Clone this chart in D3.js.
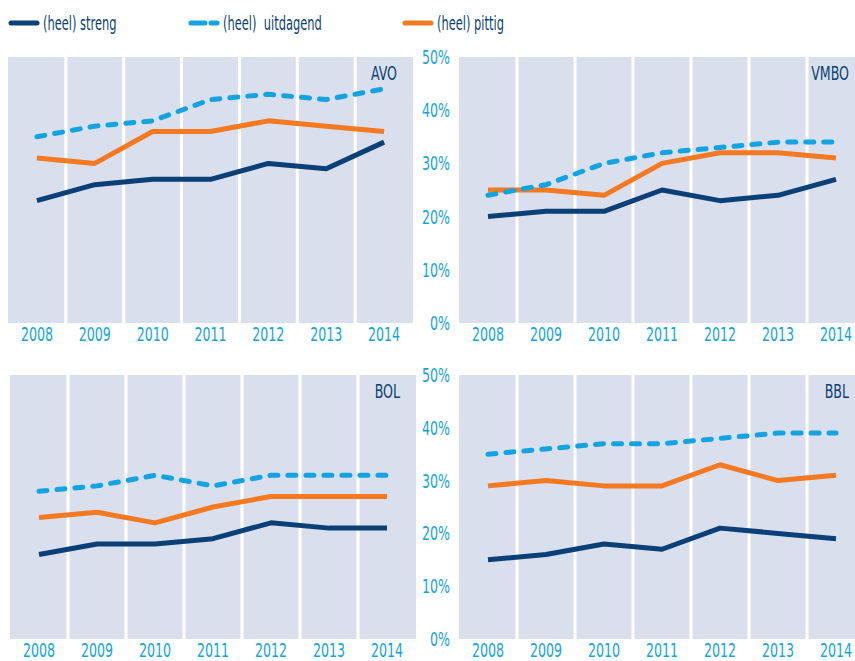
<!DOCTYPE html>
<html>
<head>
<meta charset="utf-8">
<script src="https://cdn.jsdelivr.net/npm/d3@7"></script>
<style>
  body { margin: 0; background: #fff; }
  svg text { font-family: "Liberation Sans Narrow", "Arial Narrow", "DejaVu Sans Condensed", sans-serif; }
</style>
</head>
<body>
<div id="chart"></div>
<script>
const years = ["2008", "2009", "2010", "2011", "2012", "2013", "2014"];
const seriesNames = ["(heel) streng", "(heel)\u00a0 uitdagend", "(heel) pittig"];
const yTicks = [0, 10, 20, 30, 40, 50];

const avoStreng    = [23, 26, 27, 27, 30, 29, 34];
const avoUitdagend = [35, 37, 38, 42, 43, 42, 44];
const avoPittig    = [31, 30, 36, 36, 38, 37, 36];

const vmboStreng    = [20, 21, 21, 25, 23, 24, 27];
const vmboUitdagend = [24, 26, 30, 32, 33, 34, 34];
const vmboPittig    = [25, 25, 24, 30, 32, 32, 31];

const bolStreng    = [16, 18, 18, 19, 22, 21, 21];
const bolUitdagend = [28, 29, 31, 29, 31, 31, 31];
const bolPittig    = [23, 24, 22, 25, 27, 27, 27];

const bblStreng    = [15, 16, 18, 17, 21, 20, 19];
const bblUitdagend = [35, 36, 37, 37, 38, 39, 39];
const bblPittig    = [29, 30, 29, 29, 33, 30, 31];

const navy = "#0b3f77";
const light = "#12a4e2";
const orange = "#f47920";
const panelBg = "#d9dfec";

const width = 855, height = 661;
const squeeze = 0.7;

const svg = d3.select("#chart")
    .append("svg")
    .attr("width", width)
    .attr("height", height);

// panel layout: x range, y range (bottom, top), whether it gets a y axis
const panels = [
    {name: "AVO",  x: [8, 413],   y: [323, 57],  axis: false, data: [avoStreng, avoUitdagend, avoPittig]},
    {name: "VMBO", x: [459, 865], y: [323, 57],  axis: true,  data: [vmboStreng, vmboUitdagend, vmboPittig]},
    {name: "BOL",  x: [10, 416],  y: [639, 375], axis: false, data: [bolStreng, bolUitdagend, bolPittig]},
    {name: "BBL",  x: [459, 865], y: [639, 375], axis: true,  data: [bblStreng, bblUitdagend, bblPittig]}
];

const colors = [navy, light, orange];
const dashes = [null, "8,10", null];
const drawOrder = [0, 2, 1];

panels.forEach(function (p) {
    const x = d3.scaleBand().domain(years).range(p.x).padding(0);
    const y = d3.scaleLinear().domain([0, 50]).range(p.y);
    const g = svg.append("g");

    g.append("rect")
        .attr("x", p.x[0])
        .attr("y", y(50))
        .attr("width", p.x[1] - p.x[0])
        .attr("height", y(0) - y(50))
        .attr("fill", panelBg);

    // white column separators
    g.selectAll("line.sep")
        .data(years.slice(1))
        .enter().append("line")
        .attr("class", "sep")
        .attr("x1", d => x(d))
        .attr("x2", d => x(d))
        .attr("y1", y(50))
        .attr("y2", y(0))
        .attr("stroke", "#fff")
        .attr("stroke-width", 3);

    const xAxis = g.append("g")
        .attr("transform", `translate(0, ${y(0)})`)
        .call(d3.axisBottom(x).tickSize(0).tickPadding(4));
    xAxis.select(".domain").remove();
    xAxis.selectAll("text")
        .attr("fill", light)
        .attr("font-size", 20)
        .attr("transform", `scale(${squeeze},1)`);

    if (p.axis) {
        const yAxis = g.append("g")
            .attr("transform", `translate(${p.x[0] - 9}, 0)`)
            .call(d3.axisLeft(y).tickValues(yTicks).tickSize(0).tickPadding(0)
                .tickFormat(d => d + "%"));
        yAxis.select(".domain").remove();
        yAxis.selectAll("text")
            .attr("fill", light)
            .attr("font-size", 20)
            .attr("transform", `scale(${squeeze},1)`);
    }

    const line = d3.line()
        .x((d, i) => x(years[i]) + x.bandwidth() / 2)
        .y(d => y(d));

    drawOrder.forEach(function (s) {
        g.append("path")
            .datum(p.data[s])
            .attr("d", line)
            .attr("fill", "none")
            .attr("stroke", colors[s])
            .attr("stroke-width", 5)
            .attr("stroke-linecap", dashes[s] ? "round" : "butt")
            .attr("stroke-linejoin", "round")
            .attr("stroke-dasharray", dashes[s]);
    });

    g.append("text")
        .attr("transform", `translate(${p.x[1] - 16}, ${y(50) + 23}) scale(${squeeze},1)`)
        .attr("text-anchor", "end")
        .attr("fill", navy)
        .attr("font-size", 20)
        .text(p.name);
});

// legend
const legendX = [11, 191, 405];
const legend = svg.append("g");
seriesNames.forEach(function (name, i) {
    legend.append("line")
        .attr("x1", legendX[i])
        .attr("x2", legendX[i] + 26)
        .attr("y1", 23)
        .attr("y2", 23)
        .attr("stroke", colors[i])
        .attr("stroke-width", 5)
        .attr("stroke-linecap", "round")
        .attr("stroke-dasharray", dashes[i] ? "14,6" : null);
    legend.append("text")
        .attr("transform", `translate(${legendX[i] + 32}, 30) scale(0.67,1)`)
        .attr("fill", navy)
        .attr("font-size", 19)
        .text(name);
});
</script>
</body>
</html>
